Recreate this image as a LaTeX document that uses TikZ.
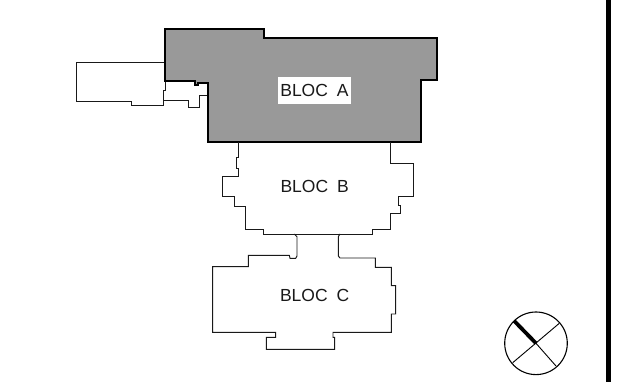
\documentclass[tikz,border=0pt]{standalone}
\usepackage{fontspec}
\setmainfont{Liberation Sans}
\begin{document}
\begin{tikzpicture}[x=1pt,y=-1pt,
	wall/.style={draw=black!90, line width=.95pt, line join=miter},
	mainwall/.style={draw=black, fill=black!40, line width=1.5pt, line join=miter},
	bloclabel/.style={font=\fontsize{17.5}{20}\selectfont, text=black!90, inner sep=0pt}]
\useasboundingbox (0,0) rectangle (627,382);

% annex left of bloc A
\draw[wall] (165,62) -- (76,62) -- (76,101) -- (131,101) -- (131,105) -- (163,105)
			-- (163,90) -- (165,90) -- (165,81);
\draw[wall] (163,100.7) -- (188,100.7) -- (188,107) -- (199,107) -- (199,95) -- (208,95);

% bloc A
\draw[mainwall] (165,29) -- (264,29) -- (264,38) -- (437,38) -- (437,80) -- (421,80)
			-- (421,142) -- (208,142) -- (208,83) -- (198,83) -- (198,85) -- (195,85)
			-- (195,81) -- (165,81) -- cycle;
\node[bloclabel, fill=white, minimum width=73pt, minimum height=27pt] (blocA) at (314.5,90.5) {BLOC\hspace{9pt}A};

% bloc B
\draw[wall] (238.3,142) -- (238.3,157.7) -- (236.3,157.7) -- (236.3,168.3) -- (238.3,168.3)
			-- (238.3,176.7) -- (222.3,176.7) -- (222.3,196.7) -- (234.3,196.7) -- (234.3,206)
			-- (245.3,206) -- (245.3,229) -- (263,229) -- (263,234) -- (372.3,234)
			-- (372.3,229) -- (390,229) -- (390,213) -- (400.7,213) -- (400.7,205)
			-- (398.3,205) -- (398.3,196.7) -- (413.3,196.7) -- (413.3,163.3) -- (390,163.3)
			-- (390,142);
\node[bloclabel] (blocB) at (314.7,186.7) {BLOC\hspace{9pt}B};

% bloc C
\draw[wall] (294.3,234) -- (297,236.7) -- (297,256) -- (295.7,258.3) -- (290,258.3)
			-- (289.3,255.3) -- (248.3,255.3) -- (248.3,266.7) -- (212.7,266.7) -- (212.7,332.3)
			-- (275.7,332.3) -- (275.7,337.3) -- (266.3,337.3) -- (266.3,349.3) -- (334.7,349.3)
			-- (334.7,337.3) -- (333,337.3) -- (333,332.3) -- (391.3,332.3) -- (391.3,314)
			-- (395.7,314) -- (395.7,285.7) -- (391.3,285.7) -- (391.3,267.3) -- (375.3,267.3)
			-- (375.3,258) -- (340,258) -- (338.3,256) -- (338.3,236.7) -- (340,234);
\node[bloclabel] (blocC) at (314.7,295.7) {BLOC\hspace{9pt}C};

% north sign
\coordinate (north) at (536,343.3);
\draw[line width=1.1pt] (north) circle (31.3);
\draw[line width=.9pt] (559.3,323.3) -- (512.7,362.7);
\draw[line width=.9pt] (north) -- (556,366);
\draw[line width=3.8pt] (514,320.7) -- (north);

% border on the right
\fill (606,0) rectangle (610.7,382);
\end{tikzpicture}
\end{document}
